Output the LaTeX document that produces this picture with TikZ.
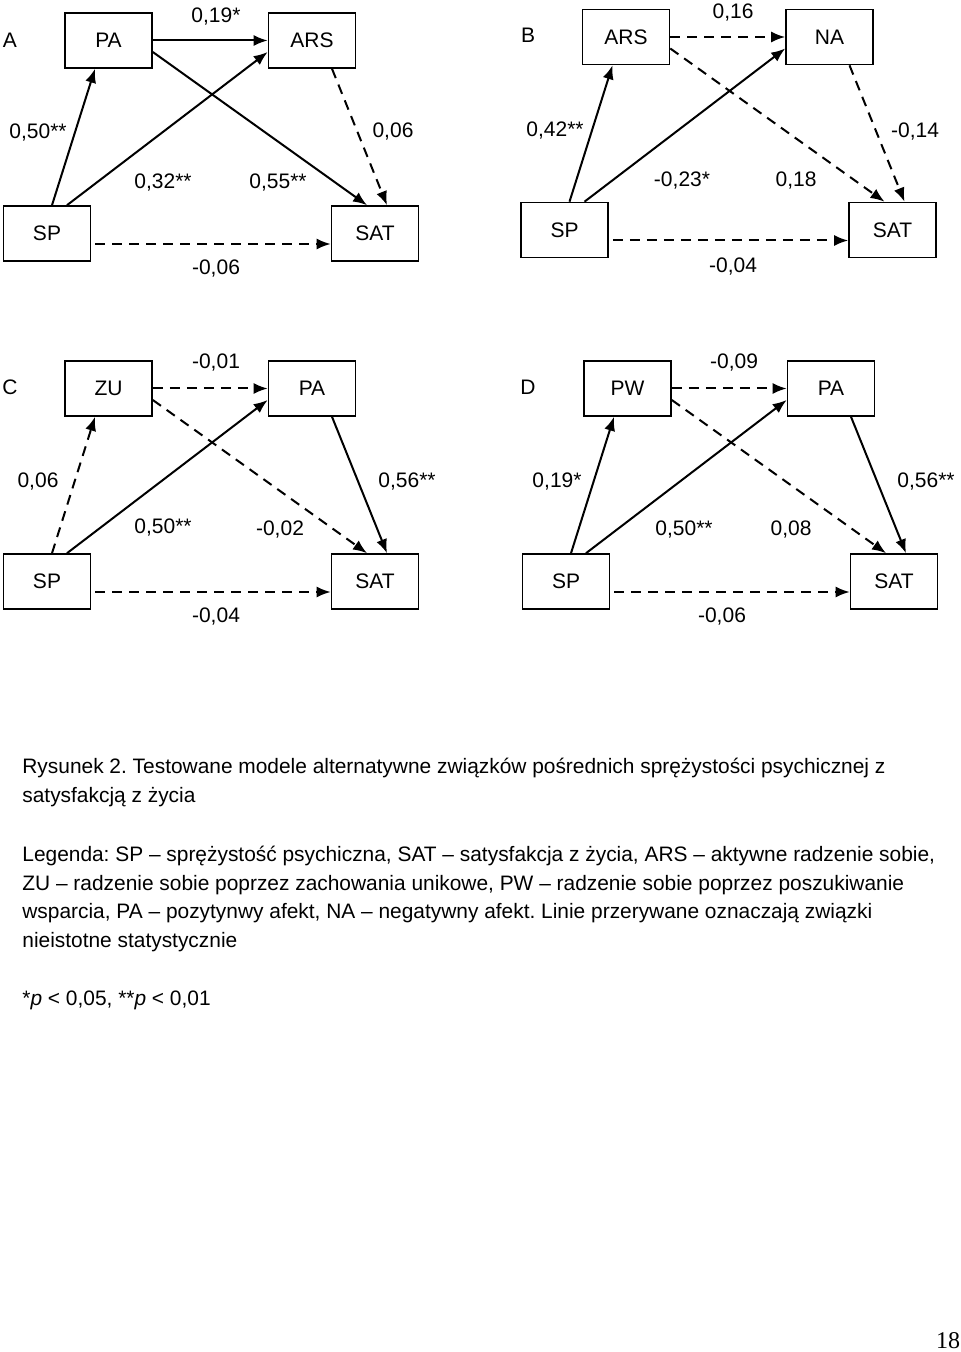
\documentclass[tikz,border=0pt]{standalone}
\usepackage{fontspec}
\setmainfont{Liberation Sans}
\newfontfamily\pagefont{Liberation Serif}
\usetikzlibrary{arrows.meta}
\frenchspacing
\tikzset{
  var/.style={draw,line width=0.8pt,minimum width=43.5pt,minimum height=27.5pt,
    inner sep=0pt,font=\fontsize{10.5}{12}\selectfont},
  coef/.style={font=\fontsize{10.5}{12}\selectfont,inner sep=0pt},
  sig/.style={-{Latex[length=7pt,width=5.5pt]},line width=1pt},
  nonsig/.style={sig,dash pattern=on 5pt off 3.5pt},
  textblock/.style={font=\fontsize{10.45}{14.25}\selectfont,align=left,inner sep=0pt,anchor=base west}
}

\begin{document}
\begin{tikzpicture}[x=0.5pt,y=-0.5pt]
  \useasboundingbox (0,0) rectangle (960,1352);

  % model A
  \begin{scope}
    \node[coef] (aTag) at (10,40) {A};
    \node[var] (aPA) at (108.5,40.5) {PA};
    \node[var] (aARS) at (312,40.5) {ARS};
    \node[var] (aSP) at (47,233.5) {SP};
    \node[var] (aSAT) at (375,233.5) {SAT};
    \draw[sig] ([xshift=2.5pt]aSP.north) -- ([xshift=-6.75pt]aPA.south);
    \draw[sig] (aPA.east) -- (aARS.west);
    \draw[sig] ([xshift=10pt]aSP.north) -- ([yshift=-5.75pt]aARS.west);
    \draw[sig] ([yshift=-5.75pt]aPA.east) -- ([xshift=-4pt]aSAT.north);
    \draw[nonsig] ([xshift=10pt]aARS.south) -- ([xshift=6pt]aSAT.north);
    \draw[nonsig] ([xshift=2pt,yshift=-5.25pt]aSP.east) -- ([yshift=-5.25pt]aSAT.west);
    \node[coef] (aC1) at (216,17) {0,19*};
    \node[coef] (aC2) at (38,133) {0,50**};
    \node[coef] (aC3) at (393,132) {0,06};
    \node[coef] (aC4) at (163,183) {0,32**};
    \node[coef] (aC5) at (278,183) {0,55**};
    \node[coef] (aC6) at (216,269) {-0,06};
  \end{scope}

  % model B
  \begin{scope}[shift={(517.5,-3.5)}]
    \node[coef] (bTag) at (10.5,38.5) {B};
    \node[var] (bARS) at (108.5,40.5) {ARS};
    \node[var] (bNA) at (312,40.5) {NA};
    \node[var] (bSP) at (47,233.5) {SP};
    \node[var] (bSAT) at (375,233.5) {SAT};
    \draw[sig] ([xshift=2.5pt]bSP.north) -- ([xshift=-6.75pt]bARS.south);
    \draw[nonsig] (bARS.east) -- (bNA.west);
    \draw[sig] ([xshift=10pt]bSP.north) -- ([yshift=-5.75pt]bNA.west);
    \draw[nonsig] ([yshift=-5.75pt]bARS.east) -- ([xshift=-4pt]bSAT.north);
    \draw[nonsig] ([xshift=10pt]bNA.south) -- ([xshift=6pt]bSAT.north);
    \draw[nonsig] ([xshift=2pt,yshift=-5.25pt]bSP.east) -- ([yshift=-5.25pt]bSAT.west);
    \node[coef] (bC1) at (215.5,16.5) {0,16};
    \node[coef] (bC2) at (37.5,134.5) {0,42**};
    \node[coef] (bC3) at (397.5,135.5) {-0,14};
    \node[coef] (bC4) at (164.5,184.5) {-0,23*};
    \node[coef] (bC5) at (278.5,184.5) {0,18};
    \node[coef] (bC6) at (215.5,270.5) {-0,04};
  \end{scope}

  % model C
  \begin{scope}[shift={(0,348)}]
    \node[coef] (cTag) at (10,39) {C};
    \node[var] (cZU) at (108.5,40.5) {ZU};
    \node[var] (cPA) at (312,40.5) {PA};
    \node[var] (cSP) at (47,233.5) {SP};
    \node[var] (cSAT) at (375,233.5) {SAT};
    \draw[nonsig] ([xshift=2.5pt]cSP.north) -- ([xshift=-6.75pt]cZU.south);
    \draw[nonsig] (cZU.east) -- (cPA.west);
    \draw[sig] ([xshift=10pt]cSP.north) -- ([yshift=-5.75pt]cPA.west);
    \draw[nonsig] ([yshift=-5.75pt]cZU.east) -- ([xshift=-4pt]cSAT.north);
    \draw[sig] ([xshift=10pt]cPA.south) -- ([xshift=6pt]cSAT.north);
    \draw[nonsig] ([xshift=2pt,yshift=-5.25pt]cSP.east) -- ([yshift=-5.25pt]cSAT.west);
    \node[coef] (cC1) at (216,15) {-0,01};
    \node[coef] (cC2) at (38,134) {0,06};
    \node[coef] (cC3) at (407,134) {0,56**};
    \node[coef] (cC4) at (163,180) {0,50**};
    \node[coef] (cC5) at (280,182) {-0,02};
    \node[coef] (cC6) at (216,269) {-0,04};
  \end{scope}

  % model D
  \begin{scope}[shift={(519,348)}]
    \node[coef] (dTag) at (9,39) {D};
    \node[var] (dPW) at (108.5,40.5) {PW};
    \node[var] (dPA) at (312,40.5) {PA};
    \node[var] (dSP) at (47,233.5) {SP};
    \node[var] (dSAT) at (375,233.5) {SAT};
    \draw[sig] ([xshift=2.5pt]dSP.north) -- ([xshift=-6.75pt]dPW.south);
    \draw[nonsig] (dPW.east) -- (dPA.west);
    \draw[sig] ([xshift=10pt]dSP.north) -- ([yshift=-5.75pt]dPA.west);
    \draw[nonsig] ([yshift=-5.75pt]dPW.east) -- ([xshift=-4pt]dSAT.north);
    \draw[sig] ([xshift=10pt]dPA.south) -- ([xshift=6pt]dSAT.north);
    \draw[nonsig] ([xshift=2pt,yshift=-5.25pt]dSP.east) -- ([yshift=-5.25pt]dSAT.west);
    \node[coef] (dC1) at (215,15) {-0,09};
    \node[coef] (dC2) at (38,134) {0,19*};
    \node[coef] (dC3) at (407,134) {0,56**};
    \node[coef] (dC4) at (165,182) {0,50**};
    \node[coef] (dC5) at (272,182) {0,08};
    \node[coef] (dC6) at (203,269) {-0,06};
  \end{scope}

  % caption and legend (base = last line)
  \node[textblock] (caption) at (22,802) {Rysunek 2. Testowane modele alternatywne związków pośrednich sprężystości psychicznej z\\
    satysfakcją z życia};
  \node[textblock] (legend) at (22,947) {Legenda: SP – sprężystość psychiczna, SAT – satysfakcja z życia, ARS – aktywne radzenie sobie,\\
    ZU – radzenie sobie poprzez zachowania unikowe, PW – radzenie sobie poprzez poszukiwanie\\
    wsparcia, PA – pozytynwy afekt, NA – negatywny afekt. Linie przerywane oznaczają związki\\
    nieistotne statystycznie};
  \node[textblock] (note) at (22,1005) {*\textit{p} < 0,05, **\textit{p} < 0,01};
  \node[font=\pagefont\fontsize{12}{14}\selectfont,inner sep=0pt,anchor=base] (page) at (948,1348) {18};
\end{tikzpicture}
\end{document}
